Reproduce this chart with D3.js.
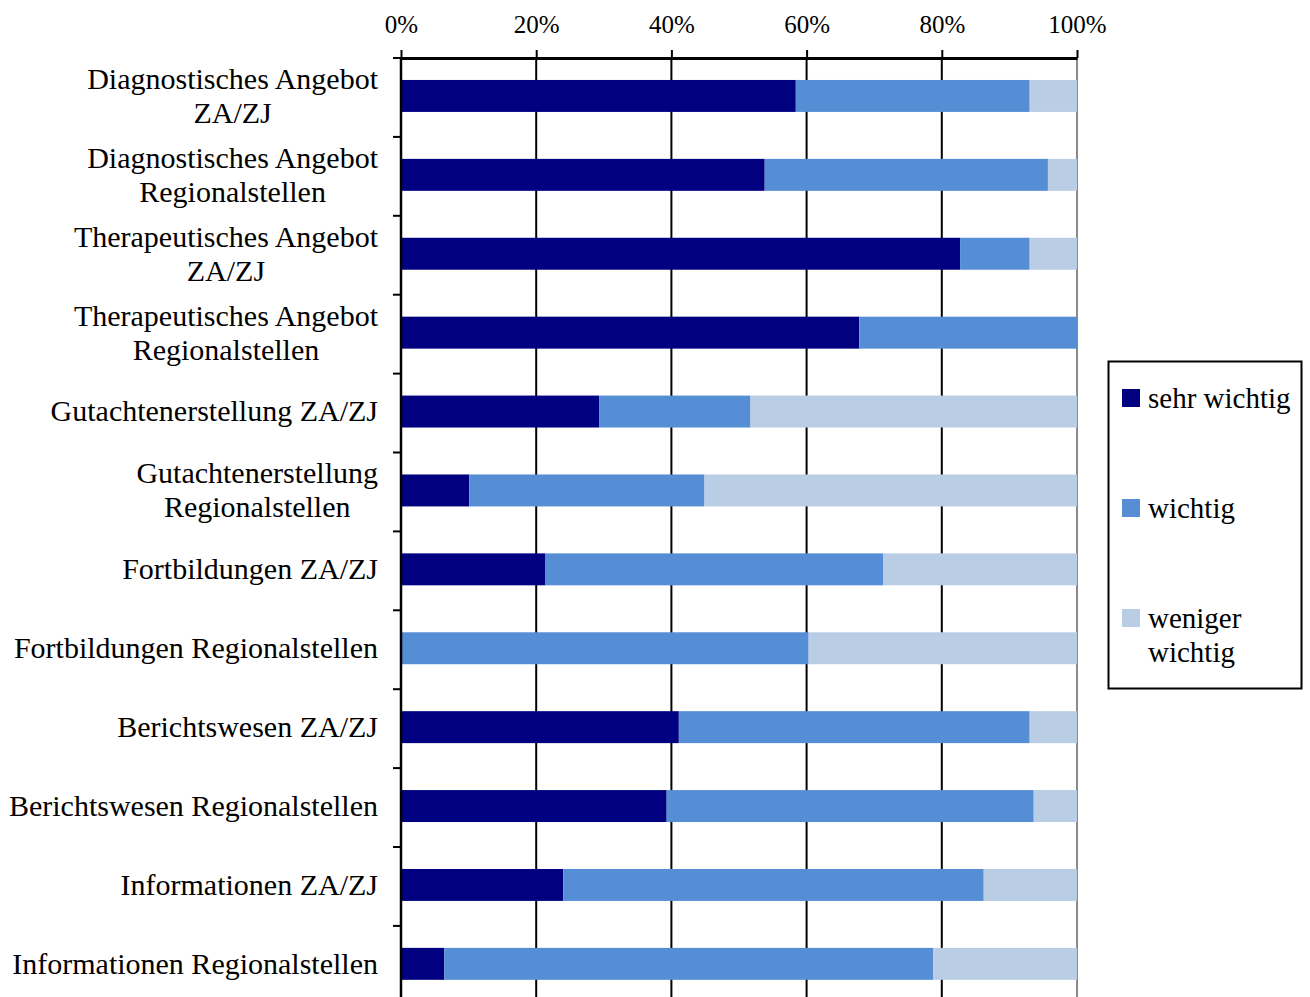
<!DOCTYPE html>
<html>
<head>
<meta charset="utf-8">
<script src="https://cdn.jsdelivr.net/npm/d3@7"></script>
<style>
  html, body { margin: 0; padding: 0; background: #fff; }
  svg { display: block; }
  text { font-family: "Liberation Serif", "DejaVu Serif", serif; fill: #000; }
</style>
</head>
<body>
<svg id="chart" width="1310" height="997"></svg>
<script>
// Categories (each entry is one or two label lines)
const categories = [
  ["Diagnostisches Angebot", "ZA/ZJ"],
  ["Diagnostisches Angebot", "Regionalstellen"],
  ["Therapeutisches Angebot", "ZA/ZJ"],
  ["Therapeutisches Angebot", "Regionalstellen"],
  ["Gutachtenerstellung ZA/ZJ"],
  ["Gutachtenerstellung", "Regionalstellen"],
  ["Fortbildungen ZA/ZJ"],
  ["Fortbildungen Regionalstellen"],
  ["Berichtswesen ZA/ZJ"],
  ["Berichtswesen Regionalstellen"],
  ["Informationen ZA/ZJ"],
  ["Informationen Regionalstellen"]
];

// Shares in percent per category
const sehrWichtig    = [58.4, 53.8, 82.7, 67.8, 29.3, 10.1, 21.3,  0.0, 41.1, 39.3, 24.0,  6.4];
const wichtig        = [34.6, 41.9, 10.3, 32.2, 22.4, 34.8, 50.0, 60.3, 51.9, 54.3, 62.2, 72.3];
const wenigerWichtig = [ 7.0,  4.3,  7.0,  0.0, 48.3, 55.1, 28.7, 39.7,  7.0,  6.4, 13.8, 21.3];

const seriesNames = ["sehr wichtig", "wichtig", "weniger wichtig"];
const seriesColors = ["#000080", "#558ed5", "#b9cde5"];
const xTicks = [0, 20, 40, 60, 80, 100];

const svg = d3.select("#chart");
const plotLeft = 401, plotRight = 1077, plotTop = 58;
const step = 78.9;

const x = d3.scaleLinear().domain([0, 100]).range([plotLeft, plotRight]);
const y = d3.scaleBand()
  .domain(d3.range(categories.length))
  .range([plotTop - 1.5, plotTop - 1.5 + step * categories.length])
  .paddingInner(0.595)
  .paddingOuter(0.2975);

// Stack the three series
const rows = categories.map((c, i) => ({
  i,
  "sehr wichtig": sehrWichtig[i],
  "wichtig": wichtig[i],
  "weniger wichtig": wenigerWichtig[i]
}));
const stacked = d3.stack().keys(seriesNames)(rows);

// Vertical gridlines
svg.append("g")
  .selectAll("line")
  .data(xTicks.slice(1))
  .join("line")
  .attr("x1", d => x(d)).attr("x2", d => x(d))
  .attr("y1", plotTop).attr("y2", 997 + 20)
  .attr("stroke", d => d === 100 ? "#8a8a8a" : "#000")
  .attr("stroke-width", 2);

// Bars
svg.append("g")
  .selectAll("g")
  .data(stacked)
  .join("g")
  .attr("fill", (d, k) => seriesColors[k])
  .selectAll("rect")
  .data(d => d.filter(s => s[1] - s[0] > 0))
  .join("rect")
  .attr("x", d => x(d[0]))
  .attr("width", d => x(d[1]) - x(d[0]))
  .attr("y", d => y(d.data.i))
  .attr("height", y.bandwidth());

// Top axis
const xAxis = d3.axisTop(x)
  .tickValues(xTicks)
  .tickFormat(d => d + "%")
  .tickSize(8)
  .tickSizeOuter(0);
const gx = svg.append("g").attr("transform", `translate(0,${plotTop})`).call(xAxis);
gx.select(".domain").attr("stroke", "#000").attr("stroke-width", 3);
gx.selectAll(".tick line").attr("stroke", "#000").attr("stroke-width", 2);
gx.selectAll(".tick text")
  .attr("y", -25)
  .attr("font-size", 25)
  .attr("font-family", "Liberation Serif, serif");

// Left axis line with category boundary ticks
svg.append("line")
  .attr("x1", plotLeft).attr("x2", plotLeft)
  .attr("y1", plotTop - 1).attr("y2", 997 + 20)
  .attr("stroke", "#000").attr("stroke-width", 2.5);
svg.append("g")
  .selectAll("line")
  .data(d3.range(categories.length + 1))
  .join("line")
  .attr("x1", plotLeft - 8).attr("x2", plotLeft)
  .attr("y1", i => plotTop + i * step).attr("y2", i => plotTop + i * step)
  .attr("stroke", "#000").attr("stroke-width", 2);

// Category labels: block right-aligned, lines centred on each other
const labelRight = 378;
const lineGap = 34;
const labels = svg.append("g");
categories.forEach((lines, i) => {
  const cy = y(i) + y.bandwidth() / 2;
  const g = labels.append("g");
  const texts = lines.map((s, k) =>
    g.append("text")
      .attr("font-size", 30)
      .attr("dy", "0.33em")
      .attr("y", cy + (k - (lines.length - 1) / 2) * lineGap)
      .text(s)
  );
  const maxW = d3.max(texts, t => t.node().getComputedTextLength());
  texts.forEach(t => t.attr("text-anchor", "middle").attr("x", labelRight - maxW / 2));
});

// Legend
const legend = svg.append("g");
legend.append("rect")
  .attr("x", 1108.5).attr("y", 361.5)
  .attr("width", 193).attr("height", 327)
  .attr("fill", "#fff").attr("stroke", "#000").attr("stroke-width", 2);
const legendItems = [
  { lines: ["sehr wichtig"], y: 398 },
  { lines: ["wichtig"], y: 508 },
  { lines: ["weniger", "wichtig"], y: 618 }
];
legendItems.forEach((it, k) => {
  legend.append("rect")
    .attr("x", 1122).attr("y", it.y - 9)
    .attr("width", 18).attr("height", 18)
    .attr("fill", seriesColors[k]);
  it.lines.forEach((s, j) => {
    legend.append("text")
      .attr("x", 1148)
      .attr("y", it.y + j * 34)
      .attr("dy", "0.33em")
      .attr("font-size", 29)
      .attr("text-anchor", "start")
      .text(s);
  });
});
</script>
</body>
</html>
